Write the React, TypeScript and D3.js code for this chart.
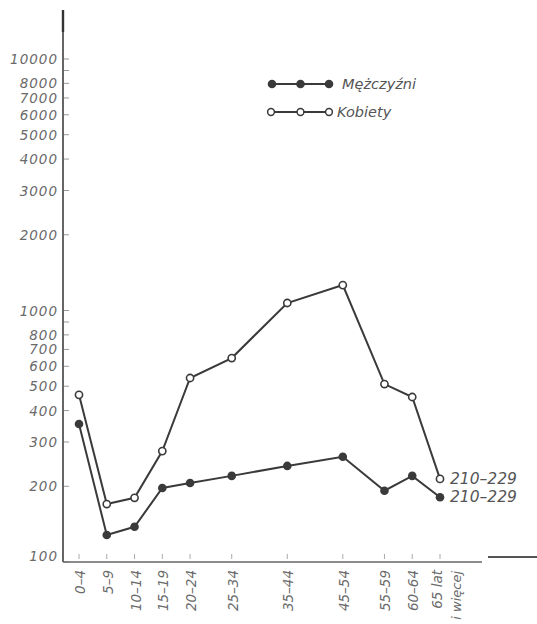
import React from "react";
import * as d3 from "d3";

// Age groups and their mid-ages (the horizontal axis is proportional to age)
const ageGroups = ["0–4", "5–9", "10–14", "15–19", "20–24", "25–34", "35–44", "45–54", "55–59", "60–64", "65 lat"];
const ageMidpoints = [2, 7, 12, 17, 22, 29.5, 39.5, 49.5, 57, 62, 67];
const lastGroupSecondLine = "i więcej";

// Rates per age group
const men = [354, 128, 138, 197, 206, 220, 241, 262, 192, 220, 181];
const women = [462, 170, 180, 276, 539, 647, 1071, 1262, 510, 453, 214];

const seriesNames = ["Mężczyźni", "Kobiety"];
const endLabel = "210–229";

// Log axis: labelled values and all minor tick marks
const yTickLabels = [100, 200, 300, 400, 500, 600, 700, 800, 1000, 2000, 3000, 4000, 5000, 6000, 7000, 8000, 10000];
const yTickMarks = [100, 200, 300, 400, 500, 600, 700, 800, 900, 1000, 2000, 3000, 4000, 5000, 6000, 7000, 8000, 9000, 10000];

const W = 537;
const H = 624;
const FONT = "'DejaVu Sans', sans-serif";
const INK = "#3a3a3a";
const TEXT = "#6a6a6a";

export default function App() {
  const x = d3.scaleLinear().domain([2, 67]).range([79, 440]);
  const y = d3.scaleLog().domain([100, 10000]).range([562, 59]);
  const axisX = 63;
  const axisY = y(100);

  const line = d3
    .line<number>()
    .x((_, i) => x(ageMidpoints[i]))
    .y((d) => y(d));

  const legendXs = [272, 300.5, 329];

  return (
    <svg
      width={W}
      height={H}
      style={{ position: "absolute", left: 0, top: 0, background: "#fff" }}
      fontFamily={FONT}
    >
      {/* y axis */}
      <line x1={axisX} x2={axisX} y1={10} y2={axisY} stroke="#555" strokeWidth={1.8} />
      <line x1={axisX} x2={axisX} y1={10} y2={32} stroke="#333" strokeWidth={2.4} />
      {yTickMarks.map((v) => (
        <line key={v} x1={axisX + 1} x2={axisX + 6} y1={y(v)} y2={y(v)} stroke="#999" strokeWidth={1} />
      ))}
      {yTickLabels.map((v) => (
        <text
          key={v}
          x={58}
          y={v === 100 ? y(v) - 6 : y(v)}
          textAnchor="end"
          dominantBaseline="central"
          fontSize={13.5}
          letterSpacing={1}
          fontStyle="italic"
          fill={TEXT}
        >
          {v}
        </text>
      ))}

      {/* x axis */}
      <line x1={axisX} x2={482} y1={axisY} y2={axisY} stroke="#666" strokeWidth={1.6} />
      <line x1={488} x2={537} y1={axisY - 5} y2={axisY - 5} stroke="#555" strokeWidth={2} />
      {ageMidpoints.map((a, i) => (
        <line key={i} x1={x(a)} x2={x(a)} y1={axisY - 8} y2={axisY - 3} stroke="#aaa" strokeWidth={1} />
      ))}
      {ageGroups.map((g, i) => (
        <text
          key={g}
          transform={`translate(${x(ageMidpoints[i]) + (i === ageGroups.length - 1 ? -3 : 1)},570) rotate(-90)`}
          textAnchor="end"
          dominantBaseline="central"
          fontSize={13.5}
          fontStyle="italic"
          fill={TEXT}
        >
          {g}
        </text>
      ))}
      <text
        transform={`translate(${x(ageMidpoints[ageMidpoints.length - 1]) + 16},571) rotate(-90)`}
        textAnchor="end"
        dominantBaseline="central"
        fontSize={13}
        fontStyle="italic"
        fill={TEXT}
      >
        {lastGroupSecondLine}
      </text>

      {/* series */}
      <path d={line(women) || ""} fill="none" stroke={INK} strokeWidth={2} />
      <path d={line(men) || ""} fill="none" stroke={INK} strokeWidth={2} />
      {women.map((v, i) => (
        <circle key={"w" + i} cx={x(ageMidpoints[i])} cy={y(v)} r={3.6} fill="#fff" stroke={INK} strokeWidth={1.6} />
      ))}
      {men.map((v, i) => (
        <circle key={"m" + i} cx={x(ageMidpoints[i])} cy={y(v)} r={4.3} fill={INK} />
      ))}

      {/* end-of-series labels */}
      <text x={450} y={y(women[women.length - 1])} dominantBaseline="central" fontSize={15.5} fontStyle="italic" fill="#555">
        {endLabel}
      </text>
      <text x={450} y={y(men[men.length - 1])} dominantBaseline="central" fontSize={15.5} fontStyle="italic" fill="#555">
        {endLabel}
      </text>

      {/* legend */}
      <line x1={legendXs[0]} x2={legendXs[2]} y1={84} y2={84} stroke={INK} strokeWidth={2} />
      {legendXs.map((lx) => (
        <circle key={"lm" + lx} cx={lx} cy={84} r={4.3} fill={INK} />
      ))}
      <text x={342} y={84} dominantBaseline="central" fontSize={14.5} fontStyle="italic" fill="#555">
        {seriesNames[0]}
      </text>
      <line x1={legendXs[0] - 1} x2={legendXs[2]} y1={112} y2={112} stroke={INK} strokeWidth={1.8} />
      {legendXs.map((lx, i) => (
        <circle key={"lw" + lx} cx={i === 0 ? lx - 1 : lx} cy={112} r={3.4} fill="#fff" stroke={INK} strokeWidth={1.5} />
      ))}
      <text x={337} y={112} dominantBaseline="central" fontSize={14.5} fontStyle="italic" fill="#555">
        {seriesNames[1]}
      </text>
    </svg>
  );
}
